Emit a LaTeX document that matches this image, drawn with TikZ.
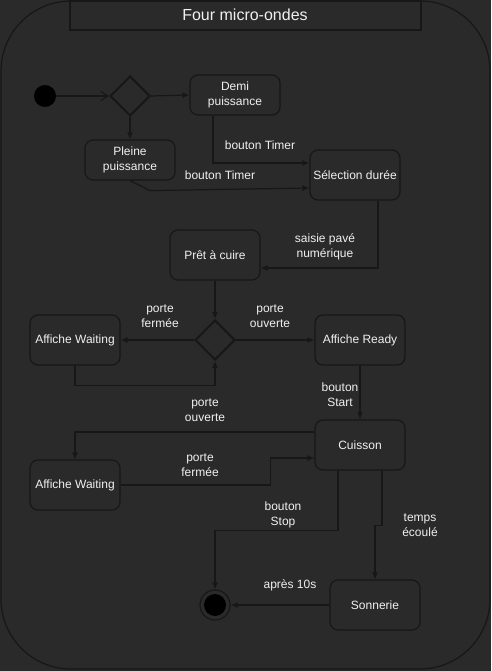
\documentclass[tikz,border=0pt]{standalone}
\usepackage{fontspec}
\setmainfont{Liberation Sans}
\usepackage{tikz}
\usetikzlibrary{arrows.meta}
\usetikzlibrary{shapes.geometric}
\usetikzlibrary{calc}

\definecolor{bgc}{HTML}{2A2A2A}
\definecolor{linec}{HTML}{171717}
\definecolor{txtc}{HTML}{F0F0F0}

\begin{document}
\begin{tikzpicture}[
        x=1pt, y=-1pt,
        >={Latex[length=7pt,width=6pt]},
        state/.style={draw=linec, line width=1.2pt, fill=bgc, rounded corners=8pt, text=txtc,
                      minimum width=90pt, minimum height=50pt, align=center,
                      font=\fontsize{12}{15}\selectfont, inner sep=0pt},
        choice/.style={draw=linec, line width=2pt, fill=bgc, shape=diamond,
                       minimum size=40pt, inner sep=0pt},
        lbl/.style={text=txtc, align=center, font=\fontsize{12}{15}\selectfont},
        trans/.style={->, draw=linec, line width=1.2pt},
    ]
    \useasboundingbox (0,0) rectangle (491,671);
    \fill[bgc] (0,0) rectangle (491,671);

    % frame and title
    \draw[linec, line width=1.2pt, rounded corners=70pt] (1,1) rectangle (490,669);
    \draw[linec, line width=1.2pt] (70,1) rectangle (421,30);
    \node[text=txtc, font=\fontsize{16}{19}\selectfont] (title) at (245,15) {Four micro-ondes};

    % states
    \fill[black] (45,96) circle (11) coordinate (init);
    \node[choice] (mode) at (130,96) {};
    \node[state, minimum height=40pt] (demi) at (235,95) {Demi\\puissance};
    \node[state, minimum height=40pt] (pleine) at (130,160) {Pleine\\puissance};
    \node[state] (duree) at (355,175) {Sélection durée};
    \node[state] (pret) at (215,255) {Prêt à cuire};
    \node[choice] (porte) at (215,340) {};
    \node[state] (waitA) at (75,340) {Affiche Waiting};
    \node[state] (ready) at (360,340) {Affiche Ready};
    \node[state] (cuisson) at (360,445) {Cuisson};
    \node[state] (waitB) at (75,485) {Affiche Waiting};
    \node[state] (sonnerie) at (375,605) {Sonnerie};
    \node[circle, draw=linec, line width=1.2pt, minimum size=30pt, inner sep=0pt] (fin) at (215,605) {};
    \fill[black] (fin) circle (11);

    % transitions
    \draw[draw=linec, line width=1.2pt, -{Straight Barb[length=7pt,width=9pt]}] ($(init)+(11,0)$) -- (mode.west);
    \draw[trans] (mode.east) -- (demi.west);
    \draw[trans] (mode.south) -- (pleine.north);
    \draw[trans] ($(demi.south)+(-22,0)$) |- ($(duree.west)+(0,-12)$);
    \draw[trans] (pleine.south) -- ++(20,10) -- ($(duree.west)+(0,13)$);
    \draw[trans] ($(duree.south)+(23,0)$) |- ($(pret.east)+(0,13)$);
    \draw[trans] (pret.south) -- (porte.north);
    \draw[trans] (porte.west) -- (waitA.east);
    \draw[trans] (porte.east) -- (ready.west);
    \draw[trans] (waitA.south) -- ++(0,20) -| (porte.south);
    \draw[trans] (ready.south) -- (cuisson.north);
    \draw[trans] ($(cuisson.west)+(0,-13)$) -| (waitB.north);
    \draw[trans] (waitB.east) -- ++(150,0) |- ($(cuisson.west)+(0,13)$);
    \draw[trans] ($(cuisson.south)+(-22,0)$) -- ++(0,60) -| (fin.north);
    \draw[trans] ($(cuisson.south)+(22,0)$) -- ++(0,55) -| (sonnerie.north);
    \draw[trans] (sonnerie.west) -- (fin.east);

    % labels
    \node[lbl] (l-timerA) at (260,145) {bouton Timer};
    \node[lbl] (l-timerB) at (220,175) {bouton Timer};
    \node[lbl] (l-saisie) at (325,247) {saisie pavé\\numérique};
    \node[lbl] (l-fermeeA) at (160,316) {porte\\fermée};
    \node[lbl] (l-ouverteA) at (270,316) {porte\\ouverte};
    \node[lbl] (l-start) at (340,395) {bouton\\Start};
    \node[lbl] (l-ouverteB) at (205,410) {porte\\ouverte};
    \node[lbl] (l-fermeeB) at (200,465) {porte\\fermée};
    \node[lbl] (l-stop) at (283,515) {bouton\\Stop};
    \node[lbl] (l-temps) at (420,525) {temps\\écoulé};
    \node[lbl] (l-apres) at (290,585) {après 10s};

\end{tikzpicture}
\end{document}
